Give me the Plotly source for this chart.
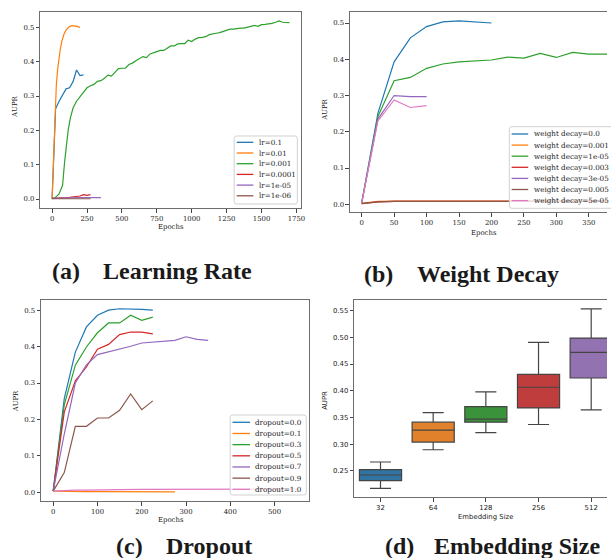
import plotly.graph_objects as go

W, H = 611, 558

# ---------------- data ----------------
# (a) learning rate
lr_labels = ["lr=0.1", "lr=0.01", "lr=0.001", "lr=0.0001", "lr=1e-05", "lr=1e-06"]
lr_x = [
    [0, 25, 50, 75, 100, 125, 150, 175, 200, 225],
    [0, 10, 20, 30, 40, 50, 60, 70, 85, 100, 120, 140, 160, 180, 200],
    [0, 25, 50, 75, 90, 100, 115, 130, 150, 175, 200, 225, 250, 275, 300, 325, 350, 375, 400,
     425, 450, 475, 500, 525, 550, 575, 600, 625, 650, 675, 700, 725, 750, 775, 800, 825, 850,
     875, 900, 925, 950, 975, 1000, 1025, 1050, 1075, 1100, 1125, 1150, 1175, 1200, 1225, 1250,
     1275, 1300, 1325, 1350, 1375, 1400, 1425, 1450, 1475, 1500, 1525, 1550, 1575, 1600, 1625,
     1650, 1675, 1700],
    [0, 25, 50, 75, 100, 125, 150, 175, 200, 225, 250, 275],
    [0, 50, 100, 150, 200, 250, 300, 350],
    [0, 50, 100, 150, 200, 250, 275],
]
lr_y = [
    [0.0, 0.263, 0.285, 0.305, 0.321, 0.324, 0.342, 0.376, 0.360, 0.362],
    [0.0, 0.13, 0.25, 0.33, 0.38, 0.415, 0.44, 0.46, 0.48, 0.492, 0.501, 0.505, 0.505, 0.503, 0.500],
    [0.0, 0.005, 0.015, 0.04, 0.11, 0.15, 0.20, 0.235, 0.265, 0.285, 0.298, 0.312, 0.324, 0.330,
     0.334, 0.343, 0.345, 0.352, 0.361, 0.358, 0.368, 0.380, 0.381, 0.381, 0.392, 0.396, 0.403,
     0.409, 0.415, 0.412, 0.422, 0.426, 0.429, 0.433, 0.433, 0.440, 0.446, 0.446, 0.452, 0.453,
     0.453, 0.463, 0.459, 0.466, 0.470, 0.471, 0.473, 0.479, 0.480, 0.483, 0.485, 0.489, 0.491,
     0.495, 0.495, 0.497, 0.498, 0.498, 0.501, 0.504, 0.506, 0.503, 0.508, 0.509, 0.510, 0.512,
     0.515, 0.519, 0.515, 0.514, 0.514],
    [0.002, 0.002, 0.003, 0.003, 0.004, 0.005, 0.006, 0.007, 0.009, 0.013, 0.011, 0.013],
    [0.002, 0.003, 0.003, 0.003, 0.004, 0.004, 0.004, 0.004],
    [0.001, 0.001, 0.001, 0.001, 0.001, 0.001, 0.001],
]

# (b) weight decay
wd_labels = ["weight decay=0.0", "weight decay=0.001", "weight decay=1e-05", "weight decay=0.003",
             "weight decay=3e-05", "weight decay=0.005", "weight decay=5e-05"]
wd_x_long = [0, 25, 50, 75, 100, 125, 150, 175, 200, 225, 250, 275, 300, 325, 350, 375, 400]
wd_x = [
    [0, 25, 50, 75, 100, 125, 150, 175, 200],
    wd_x_long,
    wd_x_long,
    wd_x_long,
    [0, 25, 50, 75, 100],
    wd_x_long,
    [0, 25, 50, 75, 100],
]
wd_y = [
    [0.003, 0.251, 0.393, 0.459, 0.490, 0.503, 0.506, 0.503, 0.500],
    [0.003, 0.008, 0.009, 0.009, 0.009, 0.009, 0.009, 0.009, 0.009, 0.009, 0.009, 0.009, 0.009,
     0.009, 0.009, 0.009, 0.009],
    [0.003, 0.242, 0.341, 0.350, 0.375, 0.387, 0.393, 0.396, 0.398, 0.406, 0.403, 0.416, 0.405,
     0.419, 0.414, 0.414, 0.415],
    [0.002, 0.007, 0.008, 0.008, 0.008, 0.009, 0.009, 0.009, 0.009, 0.009, 0.009, 0.009, 0.009,
     0.009, 0.009, 0.009, 0.009],
    [0.004, 0.235, 0.300, 0.297, 0.297],
    [0.002, 0.007, 0.008, 0.008, 0.008, 0.008, 0.008, 0.008, 0.008, 0.008, 0.008, 0.008, 0.008,
     0.008, 0.008, 0.008, 0.008],
    [0.004, 0.230, 0.288, 0.267, 0.272],
]

# (c) dropout
do_labels = ["dropout=0.0", "dropout=0.1", "dropout=0.3", "dropout=0.5", "dropout=0.7",
             "dropout=0.9", "dropout=1.0"]
do_x = [
    [0, 25, 50, 75, 100, 125, 150, 175, 200, 225],
    [0, 25, 50, 75, 100, 125, 150, 175, 200, 225, 250, 275],
    [0, 25, 50, 75, 100, 125, 150, 175, 200, 225],
    [0, 25, 50, 75, 100, 125, 150, 175, 200, 225],
    [0, 25, 50, 75, 100, 125, 150, 175, 200, 225, 250, 275, 300, 325, 350],
    [0, 25, 50, 75, 100, 125, 150, 175, 200, 225],
    [0, 25, 50, 75, 100, 150, 200, 250, 300, 350, 400, 450, 500, 550],
]
do_y = [
    [0.003, 0.257, 0.385, 0.454, 0.486, 0.500, 0.504, 0.504, 0.502, 0.500],
    [0.003, 0.002, 0.002, 0.002, 0.002, 0.002, 0.002, 0.002, 0.001, 0.001, 0.001, 0.001],
    [0.003, 0.240, 0.349, 0.399, 0.438, 0.465, 0.465, 0.486, 0.472, 0.481],
    [0.003, 0.220, 0.306, 0.344, 0.393, 0.406, 0.433, 0.440, 0.440, 0.435],
    [0.003, 0.160, 0.300, 0.350, 0.378, 0.385, 0.393, 0.401, 0.410, 0.413, 0.416, 0.417, 0.427,
     0.420, 0.417],
    [0.003, 0.054, 0.181, 0.181, 0.204, 0.204, 0.225, 0.270, 0.227, 0.251],
    [0.003, 0.005, 0.006, 0.006, 0.007, 0.007, 0.008, 0.008, 0.008, 0.009, 0.009, 0.009, 0.009, 0.009],
]

# (d) embedding size boxplot
emb_sizes = ["32", "64", "128", "256", "512"]
emb_lower = [0.2176, 0.2897, 0.3219, 0.3369, 0.3642]
emb_q1 = [0.2320, 0.3040, 0.3413, 0.3680, 0.4239]
emb_median = [0.2425, 0.3264, 0.3469, 0.4066, 0.4718]
emb_q3 = [0.2524, 0.3413, 0.3704, 0.4308, 0.4985]
emb_upper = [0.2668, 0.3592, 0.3978, 0.4904, 0.5530]

tab10 = ["#1f77b4", "#ff7f0e", "#2ca02c", "#d62728", "#9467bd", "#8c564b", "#e377c2"]
sns_cols = ["#3274a1", "#e1812c", "#3a923a", "#c03d3e", "#9372b2"]

# ---------------- helpers ----------------
def PX(x):
    return x / W

def PY(y):
    return 1 - y / H

SERIF = "DejaVu Serif"
SANS = "DejaVu Sans"
TXT = "#1a1a1a"
FRAME = "#6e6e6e"
FS = 6.9
LFS = 7.2

fig = go.Figure()

for xs, ys, c in zip(lr_x, lr_y, tab10):
    fig.add_trace(go.Scatter(x=xs, y=ys, mode="lines", line=dict(color=c, width=1.2),
                             xaxis="x", yaxis="y", showlegend=False, hoverinfo="skip"))
for xs, ys, c in zip(wd_x, wd_y, tab10):
    fig.add_trace(go.Scatter(x=xs, y=ys, mode="lines", line=dict(color=c, width=1.2),
                             xaxis="x2", yaxis="y2", showlegend=False, hoverinfo="skip"))
for xs, ys, c in zip(do_x, do_y, tab10):
    fig.add_trace(go.Scatter(x=xs, y=ys, mode="lines", line=dict(color=c, width=1.2),
                             xaxis="x3", yaxis="y3", showlegend=False, hoverinfo="skip"))
for i, s in enumerate(emb_sizes):
    fig.add_trace(go.Box(x=[s], q1=[emb_q1[i]], median=[emb_median[i]], q3=[emb_q3[i]],
                         lowerfence=[emb_lower[i]], upperfence=[emb_upper[i]],
                         fillcolor=sns_cols[i], line=dict(color="#444444", width=1.2),
                         width=0.8, whiskerwidth=0.5, boxpoints=False,
                         xaxis="x4", yaxis="y4", showlegend=False, hoverinfo="skip"))

def axis(dom, rng, anchor, font, mirror=True, **kw):
    d = dict(domain=dom, range=rng, anchor=anchor, showgrid=False, zeroline=False,
             showline=True, linecolor=FRAME, linewidth=1, mirror=mirror,
             ticks="outside", ticklen=3.5, tickwidth=0.8, tickcolor="#444444",
             tickfont=dict(family=font, size=FS, color=TXT))
    d.update(kw)
    return d

fig.update_layout(
    width=W, height=H, margin=dict(l=0, r=0, t=0, b=0),
    paper_bgcolor="white", plot_bgcolor="white", boxmode="overlay",
    xaxis=axis([PX(40.5), PX(303.3)], [-85, 1785], "y", SERIF, tickmode="linear", tick0=0, dtick=250),
    yaxis=axis([PY(208), PY(12.3)], [-0.026, 0.544], "x", SERIF, tickmode="linear", tick0=0,
               dtick=0.1, tickformat=".1f"),
    xaxis2=axis([PX(352.3), 1.0], [-18, 378], "y2", SERIF, tickmode="linear", tick0=0, dtick=50),
    yaxis2=axis([PY(212.3), PY(12.3)], [-0.022, 0.5295], "x2", SERIF, mirror=False,
                tickmode="linear", tick0=0, dtick=0.1, tickformat=".1f"),
    xaxis3=axis([PX(41.3), PX(310.9)], [-27.5, 577.5], "y3", SERIF, tickmode="linear", tick0=0, dtick=100),
    yaxis3=axis([PY(501), PY(300)], [-0.024, 0.528], "x3", SERIF, tickmode="linear", tick0=0,
                dtick=0.1, tickformat=".1f"),
    xaxis4=axis([PX(356.5), 1.0], [-0.5, 4.3], "y4", SANS, type="category",
                categoryorder="array", categoryarray=emb_sizes),
    yaxis4=axis([PY(497.3), PY(300)], [0.2008, 0.5697], "x4", SANS, mirror=False,
                tickmode="linear", tick0=0.25, dtick=0.05, tickformat=".2f"),
)

annotations = []
shapes = []

def text(x, y, s, size=FS, font=SERIF, angle=0, xanchor="center", yanchor="middle", color=TXT):
    annotations.append(dict(x=PX(x), y=PY(y), xref="paper", yref="paper", text=s, showarrow=False,
                            xanchor=xanchor, yanchor=yanchor, textangle=angle,
                            font=dict(family=font, size=size, color=color)))

# axis titles
text(15, 107, "AUPR", angle=-90)
text(172, 227, "Epochs")
text(327, 110, "AUPR", angle=-90)
text(487, 233, "Epochs")
text(15.7, 401.7, "AUPR", angle=-90)
text(172, 520, "Epochs")
text(327, 400, "AUPR", font=SANS, angle=-90)
text(489, 516.7, "Embedding Size", font=SANS)

# captions
CAP = "Liberation Serif"
text(50, 271, "<b>(a)</b>", size=24, font=CAP, xanchor="left")
text(255.3, 271, "<b>Learning Rate</b>", size=24, font=CAP, xanchor="right")
text(364, 274, "<b>(b)</b>", size=24, font=CAP, xanchor="left")
text(565, 274, "<b>Weight Decay</b>", size=24, font=CAP, xanchor="right")
text(115, 546, "<b>(c)</b>", size=24, font=CAP, xanchor="left")
text(255.3, 546, "<b>Dropout</b>", size=24, font=CAP, xanchor="right")
text(386, 546, "<b>(d)</b>", size=24, font=CAP, xanchor="left")
text(606, 546, "<b>Embedding Size</b>", size=24, font=CAP, xanchor="right")

def rounded_rect(x0, y0, x1, y1, r=2.5):
    def P(x, y):
        return f"{PX(x):.5f},{PY(y):.5f}"
    return (f"M {P(x0 + r, y0)} L {P(x1 - r, y0)} Q {P(x1, y0)} {P(x1, y0 + r)} "
            f"L {P(x1, y1 - r)} Q {P(x1, y1)} {P(x1 - r, y1)} L {P(x0 + r, y1)} "
            f"Q {P(x0, y1)} {P(x0, y1 - r)} L {P(x0, y0 + r)} Q {P(x0, y0)} {P(x0 + r, y0)} Z")

def legend(box, row0, dy, lx0, lx1, tx, labels, colors):
    x0, y0, x1, y1 = box
    shapes.append(dict(type="path", path=rounded_rect(x0, y0, x1, y1), xref="paper", yref="paper",
                       line=dict(color="rgba(204,204,204,0.9)", width=1),
                       fillcolor="rgba(255,255,255,0.8)", layer="above"))
    for i, (lab, c) in enumerate(zip(labels, colors)):
        yy = row0 + i * dy
        shapes.append(dict(type="line", x0=PX(lx0), x1=PX(lx1), y0=PY(yy), y1=PY(yy),
                           xref="paper", yref="paper", line=dict(color=c, width=1.3), layer="above"))
        text(tx, yy, lab, size=LFS, xanchor="left")

legend((235.7, 136, 299.3, 204), 142.3, 10.7, 238.3, 255, 258.3, lr_labels, tab10)
legend((512.7, 126.7, 700, 208.3), 134, 11.1, 515, 531.7, 536, wd_labels, tab10)
legend((231.7, 415, 308.3, 495), 422.3, 11.17, 234, 251.7, 255, do_labels, tab10)

fig.update_layout(annotations=annotations, shapes=shapes)

fig.write_html("out.html", config={"displayModeBar": False},
               post_script="document.body.style.margin='0px';")
